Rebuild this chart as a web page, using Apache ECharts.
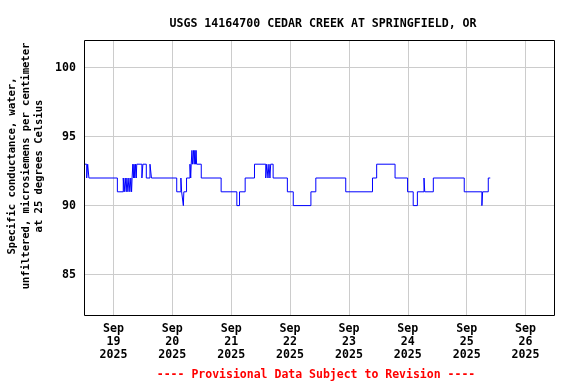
<!DOCTYPE html>
<html><head><meta charset="utf-8">
<script src="https://cdn.jsdelivr.net/npm/echarts@6/dist/echarts.min.js"></script>
<style>html,body{margin:0;padding:0;background:#fff}#c{width:576px;height:384px}</style>
</head><body><div id="c"></div>
<script>
// Hours since 2025-09-19 00:00 at which the reading changes, and the new reading (uS/cm)
const hours = [0, 1.1, 1.5, 2.0, 13.6, 16.0, 16.4, 16.8, 17.2, 17.5, 17.9, 18.3, 18.7, 19.1, 19.4, 19.6, 19.9, 20.2, 20.4, 20.7, 21.0, 21.3, 21.5, 23.6, 24.0, 25.4, 26.9, 27.5, 37.8, 39.5, 39.8, 40.5, 40.7, 41.8, 43.2, 43.5, 43.7, 44.0, 44.2, 44.7, 44.9, 45.2, 45.4, 45.7, 45.9, 47.8, 55.9, 62.3, 63.4, 65.7, 69.5, 74.1, 74.5, 75.0, 75.4, 75.8, 76.1, 77.1, 82.9, 85.3, 92.5, 94.5, 106.7, 117.6, 119.3, 126.8, 131.9, 134.2, 135.9, 138.6, 138.9, 142.4, 155.0, 162.2, 162.5, 164.8, 165.6];
const values = [93, 92, 93, 92, 91, 92, 91, 92, 91, 92, 91, 92, 91, 92, 91, 92, 93, 92, 93, 92, 93, 92, 93, 92, 93, 92, 93, 92, 91, 92, 91, 90, 91, 92, 93, 92, 93, 94, 93, 94, 93, 94, 93, 94, 93, 92, 91, 90, 91, 92, 93, 92, 93, 92, 93, 92, 93, 92, 91, 90, 91, 92, 91, 92, 93, 92, 91, 90, 91, 92, 91, 92, 91, 90, 91, 92, 92];
const dayLabels = ['Sep\n19\n2025', 'Sep\n20\n2025', 'Sep\n21\n2025', 'Sep\n22\n2025', 'Sep\n23\n2025', 'Sep\n24\n2025', 'Sep\n25\n2025', 'Sep\n26\n2025'];
const yTicks = [85, 90, 95, 100];
const titleText = 'USGS 14164700 CEDAR CREEK AT SPRINGFIELD, OR';
const yName = 'Specific conductance, water,\nunfiltered, microsiemens per centimeter\nat 25 degrees Celsius';
const footer = '---- Provisional Data Subject to Revision ----';

const FONT = '"DejaVu Sans Mono", "Liberation Mono", monospace';
const data = hours.map((h, i) => [h, values[i]]);
const chart = echarts.init(document.getElementById('c'), null, {renderer: 'canvas'});
chart.setOption({
  animation: false,
  backgroundColor: '#fff',
  title: {
    text: titleText, left: 318, top: 13, textAlign: 'center',
    textStyle: {fontFamily: FONT, fontSize: 11.6, fontWeight: 'bold', color: '#000'}
  },
  grid: {left: 84, right: 21, top: 40, bottom: 68, show: false},
  xAxis: {
    type: 'value', min: 0, max: 192, interval: 12,
    axisLine: {show: false}, axisTick: {show: false},
    splitLine: {show: true, showMinLine: false, showMaxLine: false, lineStyle: {color: ['#cccccc', 'rgba(0,0,0,0)'], width: 1}},
    axisLabel: {
      margin: 7, lineHeight: 12.8,
      fontFamily: FONT, fontSize: 11.6, fontWeight: 'bold', color: '#000',
      formatter: v => (v % 24 === 12 ? dayLabels[(v - 12) / 24] : '')
    }
  },
  yAxis: {
    type: 'value', min: 82, max: 102, interval: 1,
    axisLine: {show: false}, axisTick: {show: false},
    splitLine: {show: true, lineStyle: {color: ['rgba(0,0,0,0)', 'rgba(0,0,0,0)', 'rgba(0,0,0,0)', '#cccccc', 'rgba(0,0,0,0)'], width: 1}},
    axisLabel: {
      margin: 8, fontFamily: FONT, fontSize: 11.6, fontWeight: 'bold', color: '#000',
      formatter: v => (yTicks.indexOf(v) >= 0 ? String(v) : '')
    }
  },
  graphic: [
    {type: 'rect', z: 100, silent: true, shape: {x: 84.5, y: 40.5, width: 470, height: 275},
     style: {fill: null, stroke: '#000', lineWidth: 1}},
    {type: 'text', x: 26, y: 166, rotation: Math.PI / 2,
     style: {text: yName, fontFamily: FONT, fontSize: 10.5, fontWeight: 'bold', fill: '#000', lineHeight: 13.5, align: 'center', verticalAlign: 'middle'}},
    {type: 'text', x: 316, y: 375,
     style: {text: footer, fontFamily: FONT, fontSize: 11.5, fontWeight: 'bold', fill: '#ff0000', align: 'center', verticalAlign: 'middle'}}
  ],
  series: [{
    type: 'line', data: data, step: 'end', showSymbol: false, symbol: 'none',
    lineStyle: {color: '#0000ff', width: 1}, silent: true
  }]
});
</script></body></html>
